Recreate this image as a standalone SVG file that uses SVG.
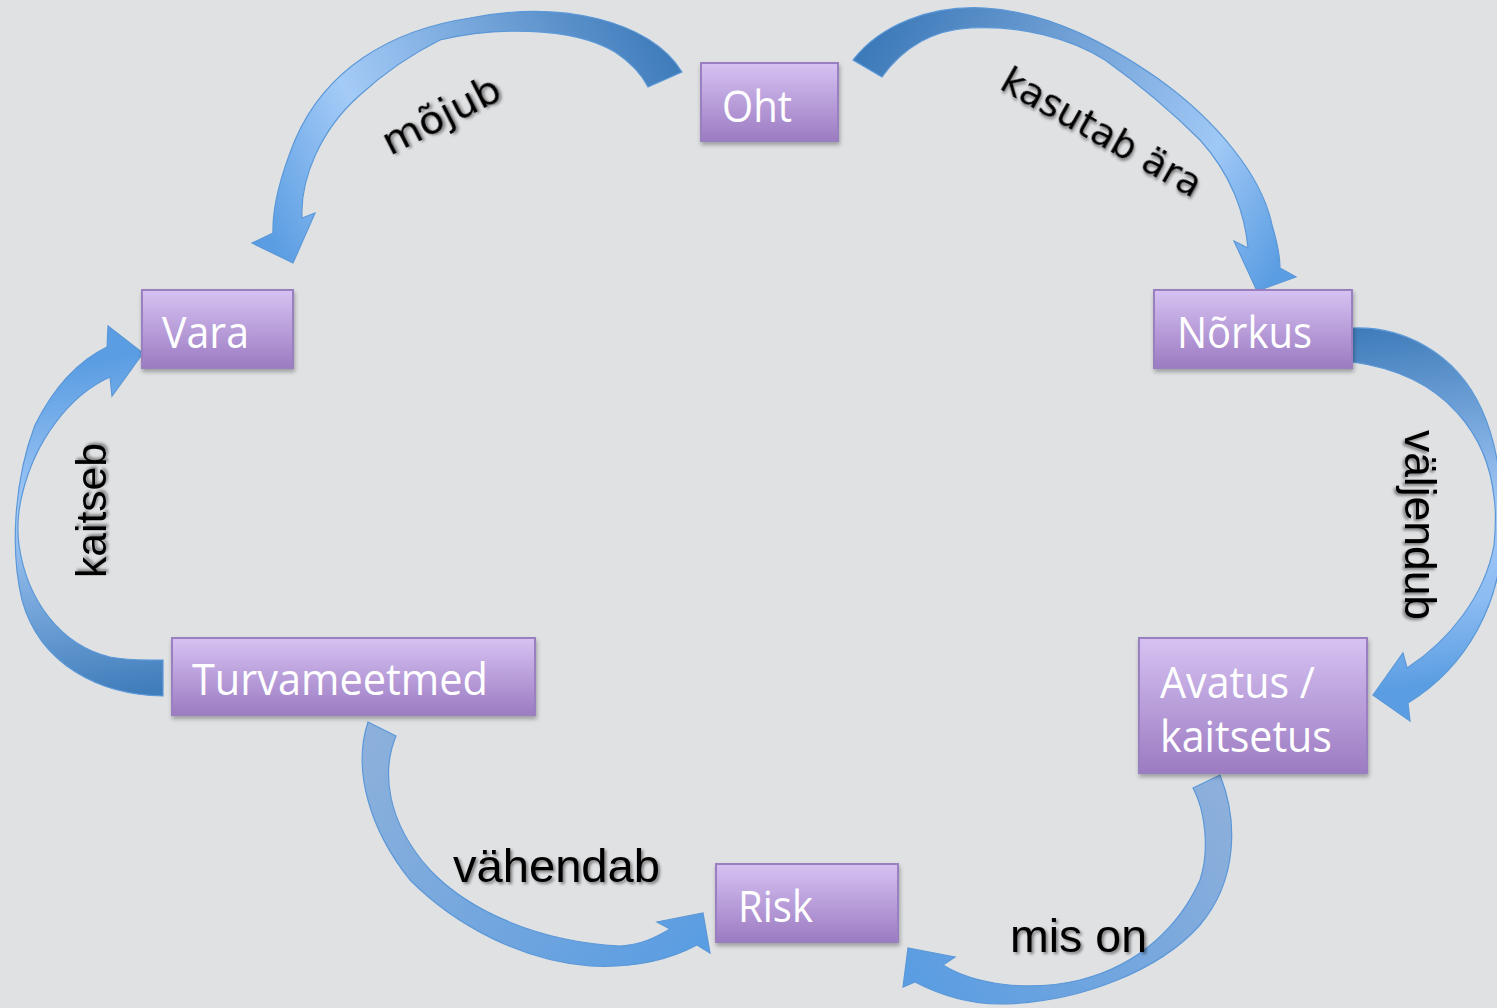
<svg xmlns="http://www.w3.org/2000/svg" width="1497" height="1008" viewBox="0 0 1497 1008">
<defs>
<linearGradient id="boxFill" x1="0" y1="0" x2="0" y2="1">
<stop offset="0" stop-color="#d6c2f2"/>
<stop offset="1" stop-color="#9c7bc2"/>
</linearGradient>
<linearGradient id="g1" gradientUnits="userSpaceOnUse" x1="680" y1="60" x2="280" y2="260">
<stop offset="0" stop-color="#3d7ab9"/>
<stop offset="0.7" stop-color="#a5cbf7"/>
<stop offset="1" stop-color="#5a9de2"/>
</linearGradient>
<linearGradient id="g2" gradientUnits="userSpaceOnUse" x1="860" y1="60" x2="1260" y2="300">
<stop offset="0" stop-color="#3d7ab9"/>
<stop offset="0.35" stop-color="#6f9fd4"/>
<stop offset="0.75" stop-color="#a0c8f6"/>
<stop offset="1" stop-color="#5a9de2"/>
</linearGradient>
<linearGradient id="g3" gradientUnits="userSpaceOnUse" x1="1352" y1="330" x2="1400" y2="720">
<stop offset="0" stop-color="#3f7cba"/>
<stop offset="0.5" stop-color="#a3c9f7"/>
<stop offset="0.72" stop-color="#8cbcf2"/>
<stop offset="0.92" stop-color="#5a9de2"/>
</linearGradient>
<linearGradient id="g4" gradientUnits="userSpaceOnUse" x1="165" y1="690" x2="110" y2="340">
<stop offset="0" stop-color="#3f7cba"/>
<stop offset="0.55" stop-color="#a6cbf8"/>
<stop offset="0.95" stop-color="#5a9de2"/>
</linearGradient>
<linearGradient id="g5" gradientUnits="userSpaceOnUse" x1="380" y1="725" x2="700" y2="950">
<stop offset="0" stop-color="#8cb0db"/>
<stop offset="1" stop-color="#5a9de2"/>
</linearGradient>
<linearGradient id="g6" gradientUnits="userSpaceOnUse" x1="1205" y1="780" x2="910" y2="980">
<stop offset="0" stop-color="#8cafdb"/>
<stop offset="1" stop-color="#5a9de2"/>
</linearGradient>
<filter id="boxShadow" x="-10%" y="-10%" width="120%" height="130%">
<feDropShadow dx="1" dy="3" stdDeviation="2" flood-color="#000" flood-opacity="0.3"/>
</filter>
<filter id="textShadow" x="-10%" y="-20%" width="120%" height="150%">
<feDropShadow dx="2" dy="2" stdDeviation="1.5" flood-color="#000" flood-opacity="0.45"/>
</filter>
</defs>
<style>
.box { fill: url(#boxFill); stroke: #9a80c0; stroke-width: 2; filter: url(#boxShadow); }
.ntext { font-family: "Open Sans", "Noto Sans", sans-serif; font-size: 43px; fill: #ffffff; }
.arrow { stroke: #5b98d8; stroke-width: 1.2; stroke-linejoin: miter; }
.lbl { font-family: "Liberation Sans", Arial, sans-serif; fill: #000000; filter: url(#textShadow); }
.lbl2 { font-family: "DejaVu Sans", "Open Sans", sans-serif; fill: #000000; filter: url(#textShadow); }
</style>
<rect x="0" y="0" width="1497" height="1008" fill="#e0e1e3"/>

<g id="connectors">
<path class="arrow" fill="url(#g1)" d="M648,87 L682,72 C650,20 560,0 470,18 C390,30 325,70 295,140 C282,172 272,205 273,233 L252,243 L293,263 L315,213 L302,218 C300,180 320,130 360,95 C385,72 410,55 440,40 C490,28 570,25 615,52 C630,62 642,75 648,87 Z"/>
<path class="arrow" fill="url(#g2)" d="M882,77 L853,60 C880,25 930,5 985,8 C1050,12 1110,45 1160,80 C1215,120 1262,175 1272,225 C1278,245 1280,258 1280,268 L1296,277 L1257,291 L1234,241 L1248,248 C1245,215 1232,175 1200,140 C1170,110 1140,85 1105,60 C1070,38 1020,25 970,28 C935,30 905,45 882,77 Z"/>
<path class="arrow" fill="url(#g3)" d="M1352,362 L1352,328 C1400,326 1455,350 1482,410 C1500,450 1504,500 1502,540 C1500,600 1470,665 1408,703 L1410,721 L1373,695 L1403,653 L1407,668 C1450,640 1485,595 1494,545 C1496,525 1496,510 1494,497 C1488,440 1450,375 1352,362 Z"/>
<path class="arrow" fill="url(#g4)" d="M163,660 L163,696 C100,695 40,665 22,600 C10,550 14,480 35,425 C55,385 80,360 107,347 L108,326 L143,353 L112,396 L110,377 C70,395 35,440 22,495 C17,515 17,530 19,545 C27,600 60,645 110,657 C130,661 148,660 163,660 Z"/>
<path class="arrow" fill="url(#g5)" d="M368,722 L396,736 C382,770 385,820 430,870 C470,912 540,942 620,946 C640,945 655,938 670,929 L657,922 L703,913 L710,953 L697,945 C665,962 630,968 590,966 C520,960 455,925 410,880 C370,830 352,770 368,722 Z"/>
<path class="arrow" fill="url(#g6)" d="M1193,788 L1220,775 C1238,820 1238,880 1200,925 C1160,970 1080,1003 1000,1004 C970,1004 940,995 915,982 L903,987 L908,948 L955,957 L943,965 C975,985 1030,992 1080,980 C1140,965 1180,925 1200,880 C1210,850 1205,810 1193,788 Z"/>
<text class="lbl2" font-size="39" transform="translate(390,156) rotate(-27)" textLength="128" lengthAdjust="spacingAndGlyphs">mõjub</text>
<text class="lbl2" font-size="38" transform="translate(998,88) rotate(29.5)" textLength="224" lengthAdjust="spacingAndGlyphs">kasutab ära</text>
<text class="lbl" font-size="42" transform="translate(106,578) rotate(-90)" textLength="135" lengthAdjust="spacingAndGlyphs">kaitseb</text>
<text class="lbl" font-size="44" transform="translate(1405,430) rotate(90)" textLength="190" lengthAdjust="spacingAndGlyphs">väljendub</text>
<text class="lbl" font-size="46" x="453" y="882" textLength="207" lengthAdjust="spacingAndGlyphs">vähendab</text>
<text class="lbl" font-size="46" x="1010" y="952" textLength="137" lengthAdjust="spacingAndGlyphs">mis on</text>
</g>

<g id="node-oht">
<rect class="box" x="701" y="63" width="137" height="78"/>
<text class="ntext" x="722" y="122" textLength="70" lengthAdjust="spacingAndGlyphs">Oht</text>
</g>
<g id="node-vara">
<rect class="box" x="142" y="290" width="151" height="78"/>
<text class="ntext" x="162" y="348" textLength="87" lengthAdjust="spacingAndGlyphs">Vara</text>
</g>
<g id="node-norkus">
<rect class="box" x="1154" y="290" width="198" height="78"/>
<text class="ntext" x="1177" y="348" textLength="135" lengthAdjust="spacingAndGlyphs">Nõrkus</text>
</g>
<g id="node-turvameetmed">
<rect class="box" x="172" y="638" width="363" height="77"/>
<text class="ntext" x="192" y="695" textLength="296" lengthAdjust="spacingAndGlyphs">Turvameetmed</text>
</g>
<g id="node-avatus">
<rect class="box" x="1139" y="638" width="228" height="135"/>
<text class="ntext" x="1160" y="698" textLength="155" lengthAdjust="spacingAndGlyphs">Avatus /</text>
<text class="ntext" x="1160" y="752" textLength="172" lengthAdjust="spacingAndGlyphs">kaitsetus</text>
</g>
<g id="node-risk">
<rect class="box" x="716" y="864" width="182" height="78"/>
<text class="ntext" x="738" y="922" textLength="75" lengthAdjust="spacingAndGlyphs">Risk</text>
</g>
</svg>
